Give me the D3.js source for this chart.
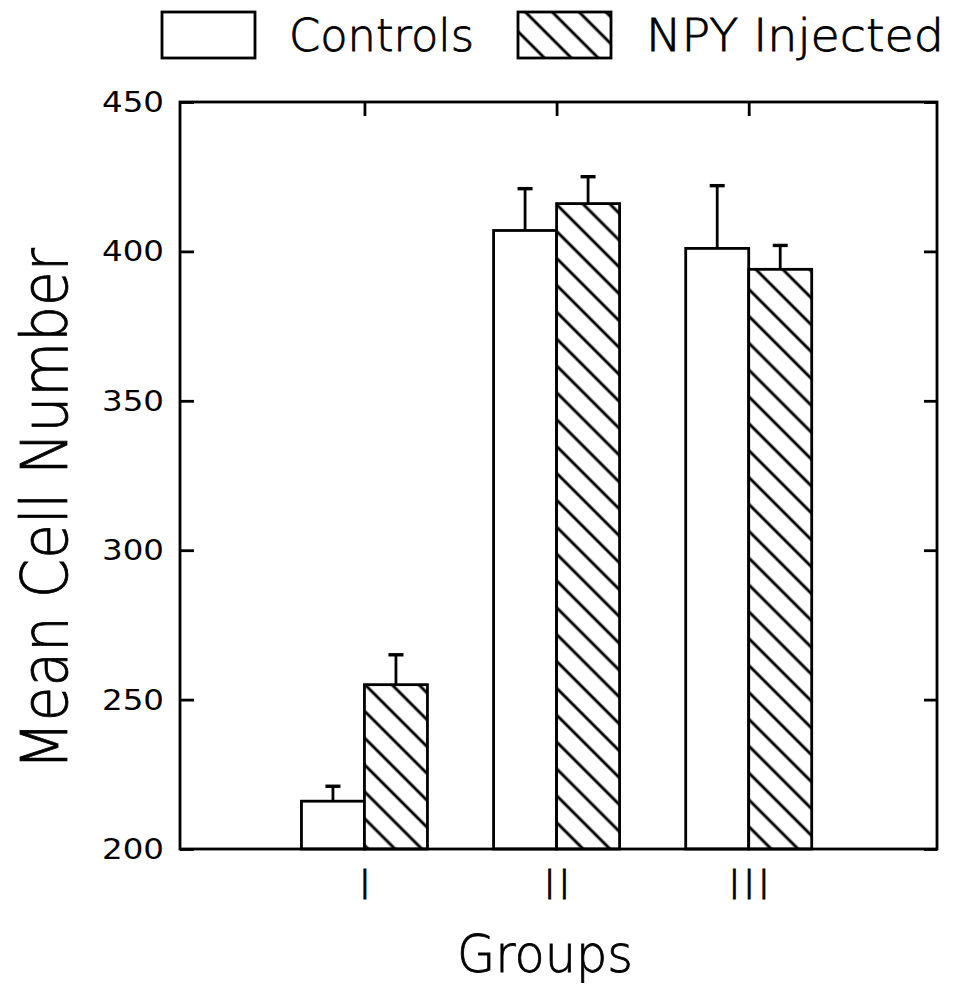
<!DOCTYPE html>
<html>
<head>
<meta charset="utf-8">
<script src="https://cdn.jsdelivr.net/npm/d3@7"></script>
<style>
  html, body { margin: 0; padding: 0; background: #fff; }
  svg { display: block; }
  text { font-family: "DejaVu Sans", "Liberation Sans", sans-serif; fill: #000; }
  text.thin { font-weight: 200; stroke: #000; stroke-width: 0.8; }
</style>
</head>
<body>
<svg id="chart" width="956" height="1003"></svg>
<script>
// ---- data ----
const groups = ["I", "II", "III"];
const seriesNames = ["Controls", "NPY Injected"];
const controlsMean = [216, 407, 401];
const controlsErr = [5, 14, 21];
const npyMean = [255, 416, 394];
const npyErr = [10, 9, 8];
const yTicks = [200, 250, 300, 350, 400, 450];

// ---- layout ----
const plotL = 180, plotR = 937, plotT = 102, plotB = 849;
const barW = 63;
const svg = d3.select("#chart");

const defs = svg.append("defs");
const pat = defs.append("pattern")
  .attr("id", "hatch")
  .attr("patternUnits", "userSpaceOnUse")
  .attr("width", 19).attr("height", 19)
  .attr("patternTransform", "rotate(-45)");
pat.append("rect").attr("width", 19).attr("height", 19).attr("fill", "#fff");
pat.append("line").attr("x1", 2).attr("y1", -1).attr("x2", 2).attr("y2", 20)
  .attr("stroke", "#000").attr("stroke-width", 2.9);

const x = d3.scaleLinear().domain([0.04, 3.98]).range([plotL, plotR]);
const y = d3.scaleLinear().domain([200, 450]).range([plotB, plotT]);

const series = [
  { name: seriesNames[0], mean: controlsMean, err: controlsErr, fill: "#fff", off: -1 },
  { name: seriesNames[1], mean: npyMean, err: npyErr, fill: "url(#hatch)", off: 0 }
];

const sw = 2.8;
series.forEach(s => {
  const g = svg.append("g");
  groups.forEach((gr, i) => {
    const cx = x(i + 1);
    const x0 = cx + s.off * barW;
    g.append("rect")
      .attr("x", x0).attr("y", y(s.mean[i]))
      .attr("width", barW).attr("height", y(200) - y(s.mean[i]))
      .attr("fill", s.fill).attr("stroke", "#000").attr("stroke-width", sw);
    const ex = x0 + barW / 2;
    g.append("line")
      .attr("x1", ex).attr("x2", ex)
      .attr("y1", y(s.mean[i])).attr("y2", y(s.mean[i] + s.err[i]))
      .attr("stroke", "#000").attr("stroke-width", sw);
    g.append("line")
      .attr("x1", ex - 7.5).attr("x2", ex + 7.5)
      .attr("y1", y(s.mean[i] + s.err[i])).attr("y2", y(s.mean[i] + s.err[i]))
      .attr("stroke", "#000").attr("stroke-width", sw + 0.6);
  });
});

// frame
svg.append("rect")
  .attr("x", plotL).attr("y", plotT).attr("width", plotR - plotL).attr("height", plotB - plotT)
  .attr("fill", "none").attr("stroke", "#000").attr("stroke-width", sw);

const leftAxis = d3.axisRight(y).tickValues(yTicks).tickSize(14).tickFormat("");
const la = svg.append("g").attr("transform", `translate(${plotL},0)`).call(leftAxis);
la.select(".domain").remove();
la.selectAll(".tick line").attr("stroke-width", sw);

const rightAxis = d3.axisLeft(y).tickValues(yTicks).tickSize(13).tickFormat("");
const ra = svg.append("g").attr("transform", `translate(${plotR},0)`).call(rightAxis);
ra.select(".domain").remove();
ra.selectAll(".tick line").attr("stroke-width", sw);

svg.append("g").selectAll("text").data(yTicks).join("text")
  .attr("x", 164).attr("y", d => y(d) + 10)
  .attr("text-anchor", "end")
  .attr("font-size", 28)
  .attr("textLength", 62).attr("lengthAdjust", "spacingAndGlyphs")
  .text(d => d);

const topAxis = d3.axisBottom(x).tickValues([1, 2, 3]).tickSize(14).tickFormat("");
const ta = svg.append("g").attr("transform", `translate(0,${plotT})`).call(topAxis);
ta.select(".domain").remove();
ta.selectAll(".tick line").attr("stroke-width", sw);

svg.append("g").selectAll("text").data(groups).join("text")
  .attr("class", "thin")
  .attr("x", (d, i) => x(i + 1) + 2)
  .attr("y", 899)
  .attr("text-anchor", "middle")
  .attr("font-size", 40)
  .attr("letter-spacing", 3)
  .text(d => d);

svg.append("text")
  .attr("class", "thin")
  .attr("x", 545).attr("y", 972)
  .attr("text-anchor", "middle")
  .attr("font-size", 52)
  .attr("textLength", 176).attr("lengthAdjust", "spacingAndGlyphs")
  .text("Groups");

svg.append("text")
  .attr("class", "thin")
  .attr("transform", "translate(67,509) rotate(-90)")
  .attr("text-anchor", "middle")
  .attr("font-size", 64)
  .attr("textLength", 522).attr("lengthAdjust", "spacingAndGlyphs")
  .text("Mean Cell Number");

const legend = [
  { box: 162, text: 289, tl: 185, fill: "#fff", name: seriesNames[0] },
  { box: 518, text: 646, tl: 298, fill: "url(#hatch)", name: seriesNames[1] }
];
legend.forEach(l => {
  svg.append("rect").attr("x", l.box).attr("y", 12).attr("width", 93).attr("height", 46)
    .attr("fill", l.fill).attr("stroke", "#000").attr("stroke-width", sw);
  svg.append("text").attr("class", "thin").attr("x", l.text).attr("y", 51)
    .attr("font-size", 44)
    .attr("textLength", l.tl).attr("lengthAdjust", "spacingAndGlyphs")
    .text(l.name);
});
</script>
</body>
</html>
